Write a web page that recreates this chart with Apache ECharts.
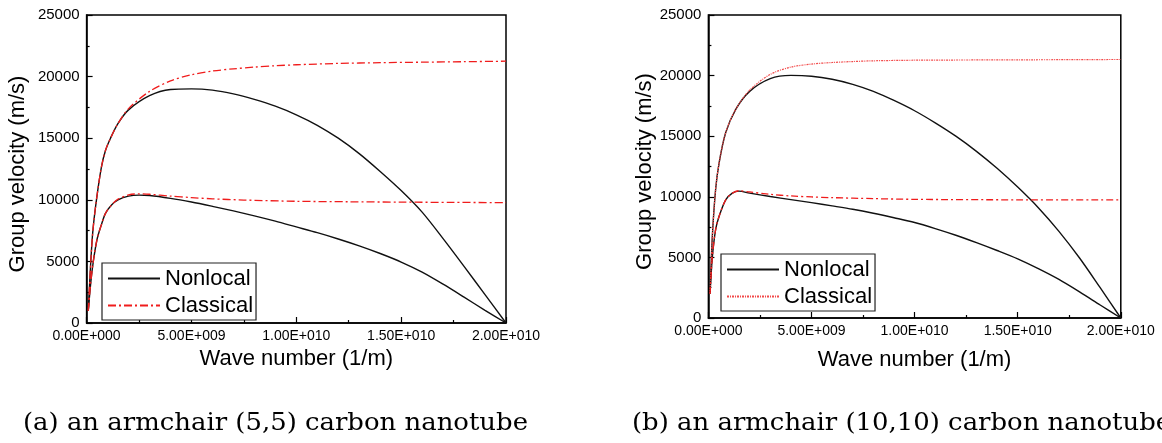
<!DOCTYPE html>
<html><head><meta charset="utf-8">
<script src="https://cdn.jsdelivr.net/npm/echarts@6/dist/echarts.min.js"></script>
<style>html,body{margin:0;padding:0;background:#fff}#c{width:1162px;height:443px}</style>
</head><body><div id="c"></div>
<script>
// Tick labels
const xTickLabels = ['0.00E+000', '5.00E+009', '1.00E+010', '1.50E+010', '2.00E+010'];
const yTickLabels = ['0', '5000', '10000', '15000', '20000', '25000'];
const legendNames = ['Nonlocal', 'Classical'];
const captions = ['(a) an armchair (5,5) carbon nanotube', '(b) an armchair (10,10) carbon nanotube'];

// (a) armchair (5,5): wave number in units of 1E+009 (1/m), group velocity in m/s
const aNonlocalUpperX = [0.08,0.2,0.3,0.47,0.7,0.9,1.14,1.5,2,3,4,5,6,7,8,9,10,11,12,13,14,15,16,17,18,19,20];
const aNonlocalUpperV = [1000,5000,7500,10000,12600,14000,15000,16200,17300,18450,18950,19000,18900,18600,18150,17600,16900,16050,15000,13750,12300,10750,9000,6850,4600,2300,0];
const aClassicalUpperX = [0.08,0.2,0.3,0.47,0.7,0.9,1.14,1.5,2,3,4,5,6,7,8,9,10,12,14,16,18,20];
const aClassicalUpperV = [1000,5000,7500,10000,12600,14000,15000,16200,17400,18800,19650,20150,20450,20630,20770,20880,20960,21070,21130,21170,21210,21250];
const aNonlocalLowerX = [0.08,0.2,0.32,0.5,0.71,0.9,1.2,1.5,2,2.5,3,4,5,6,7,8,9,10,11,12,13,14,15,16,17,18,19,20];
const aNonlocalLowerV = [1000,3300,5000,6800,8000,8900,9600,10000,10300,10380,10350,10120,9820,9470,9100,8700,8270,7800,7330,6820,6260,5640,4950,4130,3150,2100,1030,0];
const aClassicalLowerX = [0.08,0.2,0.32,0.5,0.71,0.9,1.2,1.5,2,2.5,3,4,5,6,7.5,10,12.5,15,17.5,20];
const aClassicalLowerV = [1000,3300,5000,6800,8000,8900,9600,10050,10400,10480,10450,10300,10180,10080,9980,9880,9840,9810,9790,9770];

// (b) armchair (10,10)
const bNonlocalUpperX = [0.08,0.19,0.35,0.52,0.84,1.32,2,3,4,5,6,7,8,9,10,11,12,13,14,15,16,17,18,19,20];
const bNonlocalUpperV = [2000,6700,10600,12800,15300,17200,18700,19750,20020,19950,19700,19280,18700,17950,17100,16100,15000,13750,12350,10800,9100,7150,4950,2500,0];
const bClassicalUpperX = [0.08,0.19,0.35,0.52,0.84,1.32,2,3,4,5,6,7,8,10,15,20];
const bClassicalUpperV = [2000,6700,10600,12800,15300,17200,18800,20100,20700,20950,21080,21160,21220,21270,21300,21330];
const bNonlocalLowerX = [0.08,0.19,0.35,0.52,0.84,1.16,1.48,2,3,4,5,6,7,8,9,10,11,12,13,14,15,16,17,18,19,20];
const bNonlocalLowerV = [2000,5000,7300,8400,9750,10300,10470,10300,10020,9770,9520,9250,8970,8640,8270,7880,7380,6830,6220,5570,4880,4070,3180,2150,1070,0];
const bClassicalLowerX = [0.08,0.19,0.35,0.52,0.84,1.16,1.48,2,3,4,5,6,8,10,15,20];
const bClassicalLowerV = [2000,5000,7300,8400,9750,10300,10500,10400,10200,10070,9990,9930,9850,9790,9750,9740];

const zip = (xs, vs) => xs.map((x, i) => [x, vs[i]]);
const FONT = 'Liberation Sans';
const BLACK = '#111';
const RED = '#f01c1c';

function xAxisFor(gi) {
  return {
    gridIndex: gi, type: 'value', min: 0, max: 20, interval: 5,
    name: 'Wave number (1/m)', nameLocation: 'middle', nameGap: gi === 0 ? 25 : 31,
    nameTextStyle: { fontFamily: FONT, fontSize: 22, color: '#000' },
    axisLine: { show: true, onZero: false, lineStyle: { color: '#000', width: 1.5 } },
    axisTick: { show: true, inside: true, length: 6, lineStyle: { color: '#000', width: 1.2 } },
    minorTick: { show: true, splitNumber: 2, length: 3, lineStyle: { color: '#000', width: 1.2 } },
    splitLine: { show: false },
    axisLabel: { fontFamily: FONT, fontSize: 14, color: '#000', margin: 6, showMinLabel: true, showMaxLabel: true,
      formatter: v => xTickLabels[Math.round(v / 5)] }
  };
}
function yAxisFor(gi) {
  return {
    gridIndex: gi, type: 'value', min: 0, max: 25000, interval: 5000,
    name: 'Group velocity (m/s)', nameLocation: 'middle', nameRotate: 90, nameGap: gi === 0 ? 58 : 40,
    nameTextStyle: { fontFamily: FONT, fontSize: 22, color: '#000', padding: [0, 10, 0, 0] },
    axisLine: { show: true, onZero: false, lineStyle: { color: '#000', width: 1.5 } },
    axisTick: { show: true, inside: true, length: 6, lineStyle: { color: '#000', width: 1.2 } },
    minorTick: { show: true, splitNumber: 2, length: 3, lineStyle: { color: '#000', width: 1.2 } },
    splitLine: { show: false },
    axisLabel: { fontFamily: FONT, fontSize: 15, color: '#000', margin: 7,
      formatter: v => yTickLabels[Math.round(v / 5000)] }
  };
}
function line(name, gi, data, color, width, dash) {
  return {
    name, type: 'line', xAxisIndex: gi, yAxisIndex: gi, data,
    showSymbol: false, symbol: 'none', smooth: 0.3,
    lineStyle: { color, width, type: dash || 'solid' }, itemStyle: { color },
    animation: false, silent: true
  };
}
function legendFor(gi) {
  const base = gi === 0
    ? { left: 102, top: 263, data: legendNames }
    : { left: 721, top: 254, data: legendNames.map(n => n + ' (b)') };
  return Object.assign(base, {
    orient: 'vertical', itemWidth: 52, itemHeight: 14, itemGap: 2,
    padding: [3, 3, 2, 5], borderColor: '#222', borderWidth: 1.2, backgroundColor: '#fff',
    selectedMode: false,
    itemStyle: { color: 'rgba(0,0,0,0)', borderColor: 'rgba(0,0,0,0)', borderWidth: 0, opacity: 0 },
    formatter: n => n.replace(' (b)', ''),
    textStyle: { fontFamily: FONT, fontSize: 22, color: '#000', lineHeight: 25 }
  });
}

const chart = echarts.init(document.getElementById('c'), null, { renderer: 'canvas' });
chart.setOption({
  backgroundColor: '#fff',
  animation: false,
  grid: [
    { left: 86.6, top: 15, width: 419.4, height: 308, show: true, borderColor: '#000', borderWidth: 1.5, containLabel: false },
    { left: 708.4, top: 15, width: 412.4, height: 303, show: true, borderColor: '#000', borderWidth: 1.5, containLabel: false }
  ],
  xAxis: [xAxisFor(0), xAxisFor(1)],
  yAxis: [yAxisFor(0), yAxisFor(1)],
  legend: [legendFor(0), legendFor(1)],
  series: [
    line('Nonlocal', 0, zip(aNonlocalUpperX, aNonlocalUpperV), BLACK, 1.4),
    line('Nonlocal', 0, zip(aNonlocalLowerX, aNonlocalLowerV), BLACK, 1.4),
    line('Classical', 0, zip(aClassicalUpperX, aClassicalUpperV), RED, 1.3, [8, 3, 2, 3]),
    line('Classical', 0, zip(aClassicalLowerX, aClassicalLowerV), RED, 1.3, [8, 3, 2, 3]),
    line('Nonlocal (b)', 1, zip(bNonlocalUpperX, bNonlocalUpperV), BLACK, 1.4),
    line('Nonlocal (b)', 1, zip(bNonlocalLowerX, bNonlocalLowerV), BLACK, 1.4),
    line('Classical (b)', 1, zip(bClassicalUpperX, bClassicalUpperV), '#f24a4a', 1.2, [2, 1, 1, 1]),
    line('Classical (b)', 1, zip(bClassicalLowerX, bClassicalLowerV), RED, 1.3, [7, 3, 2, 3])
  ],
  graphic: [
    { type: 'text', x: 23, y: 424, scaleX: 1.08, silent: true,
      style: { x: 0, y: 0, text: captions[0], fontFamily: 'DejaVu Serif', fontSize: 24, fill: '#000', verticalAlign: 'middle' } },
    { type: 'text', x: 632, y: 424, scaleX: 1.08, silent: true,
      style: { x: 0, y: 0, text: captions[1], fontFamily: 'DejaVu Serif', fontSize: 24, fill: '#000', verticalAlign: 'middle' } }
  ]
});
</script>
</body></html>
